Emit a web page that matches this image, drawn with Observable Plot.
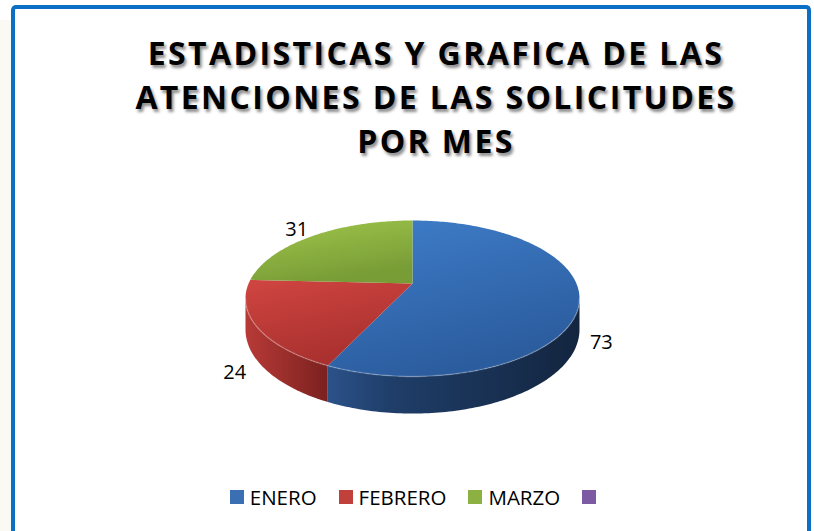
<!DOCTYPE html>
<html><head><meta charset="utf-8">
<script src="https://cdn.jsdelivr.net/npm/d3@7"></script>
<script src="https://cdn.jsdelivr.net/npm/@observablehq/plot@0.6"></script>
<style>
html,body{margin:0;padding:0;background:#fff;width:814px;height:531px;overflow:hidden;}
#strip{position:absolute;left:0;top:20px;width:11px;height:511px;background:#faf9f3;}
#frame{position:absolute;left:11px;top:5px;width:800px;height:560px;box-sizing:border-box;border:4px solid #0B6FC3;border-bottom:none;border-radius:5px 5px 0 0;background:#fff;}
#title{position:absolute;left:0;top:31px;width:872px;text-align:center;font-family:"Open Sans",sans-serif;font-weight:700;font-size:32px;line-height:44px;letter-spacing:2.4px;color:#000;text-shadow:2px 3px 3px rgba(0,0,0,0.45);}
#chart{position:absolute;left:0;top:175px;}
#legend{position:absolute;left:27px;top:480px;width:800px;}
.lg-swatches{font-family:"Open Sans",sans-serif !important;font-size:20.5px !important;color:#000;justify-content:center;margin:0 !important;}
.lg-swatches-wrap .lg-swatch{margin-right:22px !important;}
.lg-swatch > svg{margin-right:6px !important;}
</style>
</head><body>
<div id="strip"></div>
<div id="frame"></div>
<div id="title">ESTADISTICAS Y GRAFICA DE LAS<br>ATENCIONES DE LAS SOLICITUDES<br>POR MES</div>
<div id="chart"></div>
<div id="legend"></div>
<script>
// ---- data ----
const months = ["ENERO", "FEBRERO", "MARZO"];
const values = [73, 24, 31];
const legendLabels = ["ENERO", "FEBRERO", "MARZO", ""];
const legendColors = ["#3A6FB3", "#C0403C", "#8DB043", "#7C5BA3"];
const topFills = ["url(#gTopBlue)", "url(#gTopRed)", "url(#gTopGreen)"];
const sideFills = ["url(#gSideBlue)", "url(#gSideRed)", "url(#gSideGreen)"];

// ---- 3D pie geometry (perspective-tilted disc) ----
const W = 814, H = 280;
const CX = 412, CY = 108, A = 163.9, B = 75.1, K = 0.192, D = 30;
const proj = (r, deg) => {
  const a = deg * Math.PI / 180;
  const u = r * Math.sin(a), v = r * Math.cos(a);
  const w = 1 + K * v;
  return {x: CX + A * u / w, y: CY - B * v / w, w, v, u};
};
const total = d3.sum(values);
let acc = 0;
const slices = months.map((m, i) => {
  const a0 = acc / total * 360; acc += values[i];
  const a1 = acc / total * 360;
  return {month: m, value: values[i], a0, a1, i};
});
const arcRange = (lo, hi) => {
  const n = Math.max(2, Math.ceil((hi - lo) / 1));
  return d3.range(n + 1).map(j => lo + (hi - lo) * j / n);
};
const topPts = slices.map(s => [{x: CX, y: CY}, ...arcRange(s.a0, s.a1).map(a => proj(1, a))]);
const sLo = 90 + Math.asin(K) * 180 / Math.PI, sHi = 270 - Math.asin(K) * 180 / Math.PI;
const sidePts = slices.map(s => {
  const lo = Math.max(s.a0, sLo), hi = Math.min(s.a1, sHi);
  if (lo >= hi) return [];
  const ang = arcRange(lo, hi);
  const top = ang.map(a => proj(1, a));
  const bot = ang.slice().reverse().map(a => { const p = proj(1, a); return {x: p.x, y: p.y + D / p.w}; });
  return [...top, ...bot];
});
const rim = arcRange(sLo, sHi).map(a => proj(1, a));
const labels = slices.map(s => {
  const p = proj(1.06, (s.a0 + s.a1) / 2);
  return {text: String(s.value), x: p.x, y: p.y + (p.v < 0 ? 1.3 * D / p.w : -4), right: p.u > 0};
});

const marks = [];
slices.forEach((s, i) => {
  if (sidePts[i].length) marks.push(Plot.line(sidePts[i], {x: "x", y: "y", fill: sideFills[i], stroke: "none", curve: "linear-closed"}));
});
slices.forEach((s, i) => {
  marks.push(Plot.line(topPts[i], {x: "x", y: "y", fill: topFills[i], stroke: "none", curve: "linear-closed"}));
});
marks.push(Plot.line(rim, {x: "x", y: "y", stroke: "#ffffff", strokeOpacity: 0.22, strokeWidth: 1.5}));
marks.push(Plot.text(labels.filter(d => d.right), {x: "x", y: "y", text: "text", textAnchor: "start", fontSize: 20, fill: "#000"}));
marks.push(Plot.text(labels.filter(d => !d.right), {x: "x", y: "y", text: "text", textAnchor: "end", fontSize: 20, fill: "#000"}));

const chart = Plot.plot({
  width: W, height: H, margin: 0,
  x: {domain: [0, W], range: [0, W], axis: null},
  y: {domain: [0, H], range: [0, H], axis: null},
  style: {background: "transparent", fontFamily: "'Open Sans', sans-serif", overflow: "visible"},
  marks
});

// gradients
const NS = "http://www.w3.org/2000/svg";
const defs = document.createElementNS(NS, "defs");
function grad(id, x2, y2, stops) {
  const g = document.createElementNS(NS, "linearGradient");
  g.setAttribute("id", id); g.setAttribute("x1", 0); g.setAttribute("y1", 0);
  g.setAttribute("x2", x2); g.setAttribute("y2", y2);
  stops.forEach(([o, c]) => {
    const st = document.createElementNS(NS, "stop");
    st.setAttribute("offset", o); st.setAttribute("stop-color", c); g.appendChild(st);
  });
  defs.appendChild(g);
}
grad("gTopBlue", 0.4, 1, [[0, "#3F7ECA"], [1, "#2B5C9E"]]);
grad("gTopRed", 0.4, 1, [[0, "#D04541"], [1, "#A8302E"]]);
grad("gTopGreen", 0.4, 1, [[0, "#A0C64B"], [1, "#789C36"]]);
grad("gSideBlue", 1, 0, [[0, "#2B5289"], [0.25, "#1F3E69"], [1, "#13253F"]]);
grad("gSideRed", 1, 0, [[0, "#B83A37"], [1, "#7A211F"]]);
grad("gSideGreen", 1, 0, [[0, "#7A9E36"], [1, "#4F6A22"]]);
chart.insertBefore(defs, chart.firstChild);
document.getElementById("chart").appendChild(chart);

const legend = Plot.legend({
  color: {type: "ordinal", domain: legendLabels, range: legendColors},
  swatchSize: 14, className: "lg"
});
document.getElementById("legend").appendChild(legend);
</script>
</body></html>
